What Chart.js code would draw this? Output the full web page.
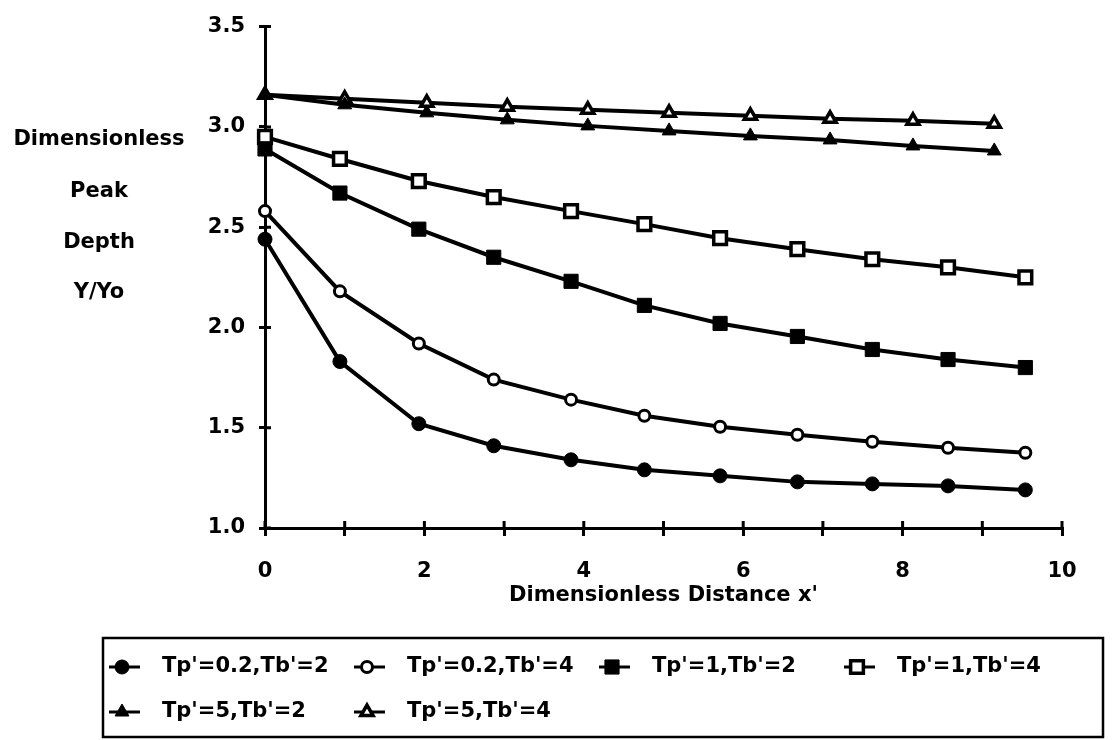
<!DOCTYPE html>
<html>
<head>
<meta charset="utf-8">
<script src="https://cdn.jsdelivr.net/npm/chart.js@4/dist/chart.umd.min.js"></script>
<style>
  body { margin: 0; background: #fff; }
  #wrap { width: 1112px; height: 740px; }
</style>
</head>
<body>
<div id="wrap"><canvas id="grafico" width="1112" height="740"></canvas></div>
<script>
// Datos
const xCirculosCuadrados = [0, 0.94, 1.93, 2.87, 3.84, 4.76, 5.71, 6.68, 7.62, 8.57, 9.54];
const xTriangulos = [0, 1.0, 2.03, 3.04, 4.05, 5.07, 6.09, 7.09, 8.13, 9.15];

const yTp02Tb2 = [2.44, 1.83, 1.52, 1.41, 1.34, 1.29, 1.26, 1.23, 1.22, 1.21, 1.19];
const yTp02Tb4 = [2.58, 2.18, 1.92, 1.74, 1.64, 1.56, 1.505, 1.465, 1.43, 1.40, 1.375];
const yTp1Tb2 = [2.89, 2.67, 2.49, 2.35, 2.23, 2.11, 2.02, 1.955, 1.89, 1.84, 1.80];
const yTp1Tb4 = [2.95, 2.84, 2.73, 2.65, 2.58, 2.515, 2.445, 2.39, 2.34, 2.30, 2.25];
const yTp5Tb2 = [3.16, 3.11, 3.07, 3.035, 3.005, 2.98, 2.955, 2.935, 2.905, 2.88];
const yTp5Tb4 = [3.16, 3.14, 3.12, 3.10, 3.085, 3.07, 3.055, 3.04, 3.03, 3.015];

const etiquetas = ["Tp'=0.2,Tb'=2", "Tp'=0.2,Tb'=4", "Tp'=1,Tb'=2", "Tp'=1,Tb'=4", "Tp'=5,Tb'=2", "Tp'=5,Tb'=4"];
const tituloY = ['Dimensionless', 'Peak', 'Depth', 'Y/Yo'];
const tituloX = "Dimensionless Distance x'";

const fuente = 'bold 21px "DejaVu Sans"';

// junta x e y en puntos
function puntos(xs, ys) {
  return ys.map((y, i) => ({ x: xs[i], y: y }));
}

function serie(label, xs, ys, estilo, radio, relleno, borde) {
  return {
    label: label,
    data: puntos(xs, ys),
    borderColor: '#000',
    borderWidth: 4,
    tension: 0,
    clip: false,
    pointStyle: estilo,
    pointRadius: radio,
    pointBackgroundColor: relleno,
    pointBorderColor: '#000',
    pointBorderWidth: borde
  };
}

// dibuja un marcador para la leyenda
function marcador(ctx, ds, cx, cy) {
  ctx.fillStyle = ds.pointBackgroundColor;
  ctx.strokeStyle = '#000';
  ctx.lineWidth = ds.pointBorderWidth;
  const r = ds.pointRadius;
  ctx.beginPath();
  if (ds.pointStyle === 'circle') {
    ctx.arc(cx, cy, r, 0, Math.PI * 2);
  } else if (ds.pointStyle === 'rect') {
    const s = r * Math.SQRT1_2;
    ctx.rect(cx - s, cy - s, 2 * s, 2 * s);
  } else {
    const a = -Math.PI / 2;
    for (let k = 0; k < 3; k++) {
      const ang = a + k * 2 * Math.PI / 3;
      const px = cx + r * Math.cos(ang), py = cy + r * Math.sin(ang);
      if (k === 0) ctx.moveTo(px, py); else ctx.lineTo(px, py);
    }
    ctx.closePath();
  }
  ctx.fill();
  ctx.stroke();
}

// marcas de los ejes hacia dentro (como cruces)
const marcasDentro = {
  id: 'marcasDentro',
  afterDraw(chart) {
    const ctx = chart.ctx;
    const sx = chart.scales.x, sy = chart.scales.y;
    const area = chart.chartArea;
    ctx.save();
    ctx.strokeStyle = '#000';
    ctx.lineWidth = 3;
    ctx.beginPath();
    sx.ticks.forEach(t => {
      const px = sx.getPixelForValue(t.value);
      ctx.moveTo(px, area.bottom);
      ctx.lineTo(px, area.bottom - 7);
    });
    sy.ticks.forEach(t => {
      const py = sy.getPixelForValue(t.value);
      ctx.moveTo(area.left, py);
      ctx.lineTo(area.left + 6, py);
    });
    ctx.stroke();
    ctx.restore();
  }
};

const textosExtra = {
  id: 'textosExtra',
  afterDraw(chart) {
    const ctx = chart.ctx;
    ctx.save();
    ctx.fillStyle = '#000';
    ctx.font = fuente;
    ctx.textAlign = 'center';
    ctx.textBaseline = 'middle';
    const filasY = [140, 192, 243, 293];
    tituloY.forEach((t, i) => ctx.fillText(t, 99, filasY[i]));

    // caja de la leyenda
    ctx.lineWidth = 2.5;
    ctx.strokeStyle = '#000';
    ctx.strokeRect(103, 638, 1000, 99);

    chart.data.datasets.forEach((ds, i) => {
      const fila = i < 4 ? 0 : 1;
      const col = i % 4;
      const cx = 122 + col * 245;
      const cy = fila === 0 ? 667 : 712;
      ctx.beginPath();
      ctx.lineWidth = 3;
      ctx.moveTo(cx - 13, cy);
      ctx.lineTo(cx + 18, cy);
      ctx.stroke();
      marcador(ctx, ds, cx, cy);
      ctx.fillStyle = '#000';
      ctx.font = fuente;
      ctx.textAlign = 'left';
      ctx.textBaseline = 'middle';
      ctx.fillText(ds.label, cx + 40, cy);
    });
    ctx.restore();
  }
};

const datos = {
  datasets: [
    serie(etiquetas[0], xCirculosCuadrados, yTp02Tb2, 'circle', 7, '#000', 1),
    serie(etiquetas[1], xCirculosCuadrados, yTp02Tb4, 'circle', 5.5, '#fff', 3),
    serie(etiquetas[2], xCirculosCuadrados, yTp1Tb2, 'rect', 10, '#000', 1),
    serie(etiquetas[3], xCirculosCuadrados, yTp1Tb4, 'rect', 9, '#fff', 3.5),
    serie(etiquetas[4], xTriangulos, yTp5Tb2, 'triangle', 8, '#000', 1),
    serie(etiquetas[5], xTriangulos, yTp5Tb4, 'triangle', 7, '#fff', 3.5)
  ]
};

const fuenteEjes = { family: 'DejaVu Sans', size: 21, weight: 'bold' };

new Chart(document.getElementById('grafico'), {
  type: 'line',
  data: datos,
  options: {
    responsive: false,
    animation: false,
    devicePixelRatio: 1,
    layout: { padding: { top: 22, right: 50, bottom: 132, left: 0 } },
    plugins: {
      legend: { display: false },
      tooltip: { enabled: false }
    },
    scales: {
      x: {
        type: 'linear',
        min: 0,
        max: 10,
        border: { display: true, color: '#000', width: 3 },
        grid: { drawOnChartArea: false, drawTicks: true, tickLength: 8, color: '#000', lineWidth: 3 },
        ticks: {
          stepSize: 1,
          padding: 23,
          color: '#000',
          font: fuenteEjes,
          maxRotation: 0,
          autoSkip: false,
          callback: v => (v % 2 === 0 ? String(v) : '')
        },
        title: { display: true, text: tituloX, color: '#000', font: fuenteEjes, padding: 0 },
        afterFit: s => { s.height = 80; }
      },
      y: {
        min: 1,
        max: 3.5,
        border: { display: true, color: '#000', width: 3 },
        grid: { drawOnChartArea: false, drawTicks: true, tickLength: 6, color: '#000', lineWidth: 3 },
        ticks: {
          stepSize: 0.5,
          padding: 14,
          color: '#000',
          font: fuenteEjes,
          callback: v => v.toFixed(1)
        },
        afterFit: s => { s.width = 265; }
      }
    }
  },
  plugins: [marcasDentro, textosExtra]
});
</script>
</body>
</html>
